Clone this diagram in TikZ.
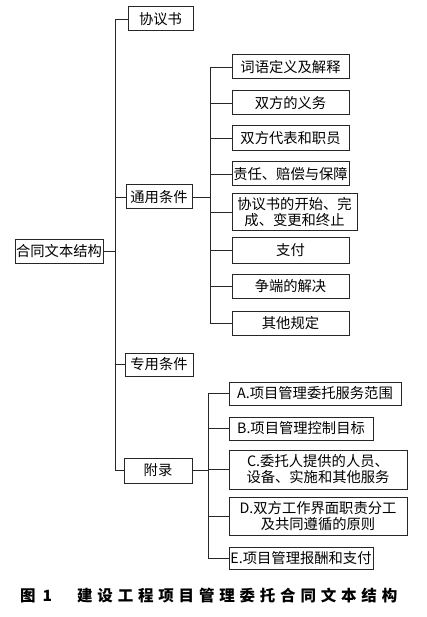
\documentclass[tikz,border=0pt]{standalone}
\usepackage{fontspec}
\setmainfont{Noto Sans CJK SC}
\newfontfamily\capfont[LetterSpace=31]{Noto Sans CJK SC}
\newfontfamily\capnum{Noto Sans CJK SC}
\begin{document}
\begin{tikzpicture}[x=1pt,y=-1pt]
\tikzset{
  box/.style={draw=black!85, line width=1pt, inner sep=0pt, align=center,
    font=\fontsize{14.3}{16}\selectfont},
  conn/.style={draw=black!85, line width=0.9pt}
}
\fill[white] (0,0) rectangle (427,617);
\useasboundingbox (0,0) rectangle (427,617);

% level 0
\node[box, minimum width=88pt, minimum height=23pt] (root) at (59,251.5) {合同文本结构};
% level 1
\node[box, minimum width=65pt, minimum height=24pt] (xys) at (160.5,19) {协议书};
\node[box, minimum width=66pt, minimum height=24pt] (tyt) at (159,197) {通用条件};
\node[box, minimum width=68pt, minimum height=23pt] (zyt) at (159,364.5) {专用条件};
\node[box, minimum width=68pt, minimum height=25pt] (fl) at (158,470.5) {附录};
% children of 通用条件
\node[box, minimum width=117pt, minimum height=24pt] (g1) at (290.5,67) {词语定义及解释};
\node[box, minimum width=117pt, minimum height=24pt] (g2) at (290.5,103) {双方的义务};
\node[box, minimum width=117pt, minimum height=25pt] (g3) at (290.5,138.5) {双方代表和职员};
\node[box, minimum width=117pt, minimum height=24pt] (g4) at (290.5,174) {责任、赔偿与保障};
\node[box, minimum width=125pt, minimum height=37pt] (g5) at (294.5,212.5) {协议书的开始、完\\成、变更和终止};
\node[box, minimum width=117pt, minimum height=25pt] (g6) at (290.5,250.5) {支付};
\node[box, minimum width=117pt, minimum height=24pt] (g7) at (290.5,286) {争端的解决};
\node[box, minimum width=117pt, minimum height=24pt] (g8) at (290.5,323) {其他规定};
% children of 附录
\node[box, minimum width=172pt, minimum height=23pt] (a) at (315,393.5) {A.项目管理委托服务范围};
\node[box, minimum width=144pt, minimum height=23pt] (b) at (301,428.5) {B.项目管理控制目标};
\node[box, minimum width=178pt, minimum height=39pt] (c) at (318,469.5) {C.委托人提供的人员、\\设备、实施和其他服务};
\node[box, minimum width=178pt, minimum height=38pt] (d) at (318,516) {D.双方工作界面职责分工\\及共同遵循的原则};
\node[box, minimum width=144pt, minimum height=22pt] (e) at (301,558) {E.项目管理报酬和支付};

% trunk coordinates
\coordinate (t1) at (115,0);
\coordinate (t2) at (210,0);
\coordinate (t3) at (208,0);

% level 0 -> level 1
\draw[conn] (root.east) -- (root.east -| t1);
\draw[conn] (xys.west) -| (t1 |- fl.west) -- (fl.west);
\draw[conn] (tyt.west) -- (tyt.west -| t1);
\draw[conn] (zyt.west) -- (zyt.west -| t1);

% 通用条件 -> children
\draw[conn] (tyt.east) -- (tyt.east -| t2);
\draw[conn] (g1.west) -| (t2 |- g8.west) -- (g8.west);
\foreach \n in {g2,g3,g4,g5,g6,g7}{
  \draw[conn] (\n.west) -- (\n.west -| t2);
}

% 附录 -> children
\draw[conn] (fl.east) -- (fl.east -| t3);
\draw[conn] (a.west) -| (t3 |- e.west) -- (e.west);
\foreach \n in {b,c,d}{
  \draw[conn] (\n.west) -- (\n.west -| t3);
}

% caption
\node[anchor=west, inner sep=0pt, font={\capnum\bfseries\fontsize{15.5}{18}\selectfont}] (capn) at (20,596) {图\hspace{7pt}1};
\node[anchor=west, inner sep=0pt, font={\capfont\bfseries\fontsize{15.5}{18}\selectfont}] (cap) at (77,596) {建设工程项目管理委托合同文本结构};
\end{tikzpicture}
\end{document}
